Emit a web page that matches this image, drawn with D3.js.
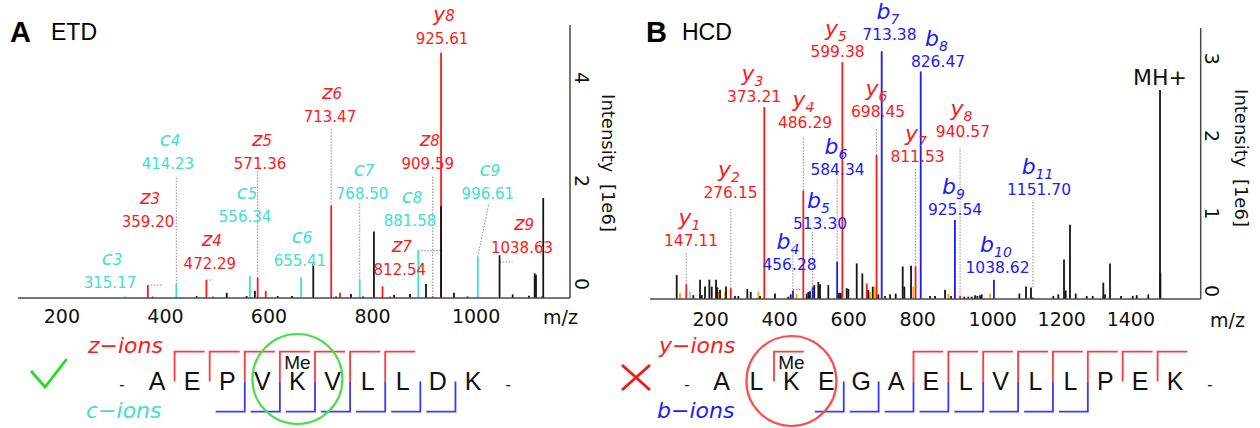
<!DOCTYPE html>
<html>
<head>
<meta charset="utf-8">
<script src="https://cdn.jsdelivr.net/npm/d3@7/dist/d3.min.js"></script>
<style>
html,body{margin:0;padding:0;background:#fff;}
svg{display:block;}
</style>
</head>
<body>
<svg id="chart" width="1260" height="428"></svg>
<script>
// ================= DATA =================
// ---- Panel A : ETD spectrum ----
const etdMz = [315.17, 359.20, 414.23, 472.29, 485, 556.34, 571.36, 587, 655.41, 713.47, 730.4, 768.50, 812.54, 827, 881.58, 909.59, 925.61, 996.61,
  368.6, 453.6, 511.6, 550, 566, 610, 637.7, 678.8, 722.7, 751.7, 774.9, 796, 835, 865.6, 896.5, 925.61, 950.6, 977, 1038.63, 1064, 1095.5, 1106.5, 1109, 1121, 1123];
const etdInt = [0.03, 0.25, 0.27, 0.35, 0.03, 0.43, 0.39, 0.14, 0.40, 1.79, 0.10, 0.35, 0.23, 0.03, 0.92, 0.03, 4.76, 0.80,
  0.025, 0.04, 0.10, 0.04, 0.14, 0.04, 0.04, 0.67, 0.03, 0.08, 0.03, 1.29, 0.06, 0.08, 0.27, 1.78, 0.10, 0.03, 0.83, 0.07, 0.045, 0.48, 0.45, 0.03, 1.94];
const etdType = ['c','z','c','z','z','c','z','z','c','z','z','c','z','z','c','z','y','c',
  'n','n','n','n','n','n','n','n','n','n','n','n','n','n','n','n','n','n','n','n','n','n','n','n','n'];

const etdLabIon = ['y','z','c','z','z','c','c','z','c','c','z','z','c','z','c'];
const etdLabNum = ['8','6','4','5','8','7','9','3','5','8','9','4','6','7','3'];
const etdLabVal = ['925.61','713.47','414.23','571.36','909.59','768.50','996.61','359.20','556.34','881.58','1038.63','472.29','655.41','812.54','315.17'];
const etdLabMz  = [927.5, 711, 398, 576, 900, 773, 1016, 359.5, 547, 865.6, 1082, 479, 653, 846, 286];
const etdLabInt = [4.94, 3.41, 2.51, 2.51, 2.51, 1.93, 1.93, 1.37, 1.47, 1.39, 0.88, 0.57, 0.63, 0.44, 0.20];
// dotted label connectors [mz1, int1, mz2, int2]
const etdConn = [
  [414.23, 0.27, 414.23, 2.35], [571.36, 0.39, 571.36, 2.49], [713.47, 1.79, 713.47, 3.30],
  [768.50, 0.35, 768.50, 1.86], [909.59, 0, 909.59, 2.39], [359.20, 0.25, 388.5, 0.25],
  [472.29, 0.35, 485, 0.35], [881.58, 0.92, 928.7, 0.92], [1038.63, 0.70, 1063.5, 0.70],
  [996.61, 0.80, 1018, 1.84]
];
const etdXTicks = [200, 400, 600, 800, 1000];
const etdYTicks = [0, 2, 4];

// ---- Panel B : HCD spectrum ----
const hcdMz = [147.11, 276.15, 373.21, 456.28, 486.29, 513.30, 584.34, 599.38, 670, 698.45, 713.38, 811.53, 826.47, 925.54, 940.57, 1038.62, 1151.70,
  129, 158, 240, 259.4, 355.9, 467, 679.6, 694, 805, 906.5, 1027.3,
  119.4, 167.5, 187, 192, 201.4, 214, 220.9, 233.3, 237, 245, 262.3, 288.4, 298, 324, 333.9, 360.8, 404.3, 442.8, 449.8, 496, 500.8, 505.7,
  518, 529.8, 534.7, 558.7, 589.7, 594.7, 612, 616.7, 641, 657.3, 674.6, 687.4, 703.6, 723, 737.5, 754, 774.3, 779, 798.4, 853.5, 868, 897,
  914.3, 952.8, 964.4, 974.3, 983.8, 990.5, 998.3, 1003.2, 1112.2, 1131.6, 1146, 1210.7, 1225.2, 1241.7, 1246.6, 1259, 1275.6, 1307.5,
  1324.9, 1355.6, 1360.5, 1375, 1406.9, 1440.8, 1452.4, 1486, 1519.9, 1521];
const hcdInt = [0.19, 0.14, 2.48, 0.11, 1.40, 0.15, 0.48, 3.06, 0.20, 1.86, 3.20, 0.42, 2.94, 1.02, 0.04, 0.25, 0.02,
  0.08, 0.09, 0.09, 0.09, 0.09, 0.07, 0.09, 0.16, 0.16, 0.07, 0.07,
  0.31, 0.05, 0.25, 0.05, 0.16, 0.25, 0.16, 0.25, 0.15, 0.12, 0.16, 0.04, 0.04, 0.13, 0.09, 0.04, 0.07, 0.03, 0.06, 0.07, 0.09, 0.10,
  0.18, 0.22, 0.19, 0.18, 0.08, 0.08, 0.14, 0.13, 0.46, 0.33, 0.12, 0.16, 0.06, 0.04, 0.06, 0.07, 0.42, 0.16, 0.43, 0.04, 0.04, 0.12,
  0.04, 0.03, 0.03, 0.03, 0.05, 0.04, 0.05, 0.06, 0.07, 0.16, 0.15, 0.04, 0.06, 0.51, 0.11, 0.96, 0.07, 0.04,
  0.04, 0.21, 0.06, 0.46, 0.04, 0.04, 0.05, 0.06, 2.70, 0.34];
const hcdType = ['y','y','y','b','y','b','b','y','y','y','b','y','b','b','y','b','b',
  'o','l','o','o','o','o','o','o','o','o','o'].concat(new Array(72).fill('n'));

const hcdLabIon = ['y','y','y','b','y','b','b','y','y','b','y','b','b','y','b','b'];
const hcdLabNum = ['1','2','3','4','4','5','6','5','6','7','7','8','9','8','10','11'];
const hcdLabVal = ['147.11','276.15','373.21','456.28','486.29','513.30','584.34','599.38','698.45','713.38','811.53','826.47','925.54','940.57','1038.62','1151.70'];
const hcdLabMz  = [160.9, 275.3, 343.4, 446.3, 491.2, 534.7, 585.4, 585.4, 702.8, 736, 817.2, 876.6, 925.9, 949, 1049, 1169.3];
const hcdLabInt = [0.69, 1.30, 2.54, 0.37, 2.21, 0.91, 1.60, 3.12, 2.35, 3.34, 1.77, 2.99, 1.08, 2.09, 0.34, 1.34];
const hcdConn = [
  [147.11, 0.19, 147.11, 0.61], [276.15, 0.14, 276.15, 1.19], [486.29, 1.40, 486.29, 2.10],
  [456.28, 0.12, 456.28, 0.61], [456.28, 0.12, 483, 0.12], [513.30, 0.15, 513.30, 0.87],
  [584.34, 0.48, 584.34, 1.57], [698.45, 1.86, 698.45, 2.19], [811.53, 0.42, 811.53, 1.69],
  [940.57, 0.04, 940.57, 1.95], [1151.70, 0.15, 1151.70, 1.28]
];
const hcdPrecursorMz = 1519.9, hcdPrecursorInt = 2.70;
const hcdXTicks = [200, 400, 600, 800, 1000, 1200, 1400];
const hcdYTicks = [0, 1, 2, 3];

// ---- Sequences ----
const seqA = ['-','A','E','P','V','K','V','L','L','D','K','-'];
const seqAtop = [1, 2, 3, 4, 5, 6, 7];      // z-ion cleavages (after residue index)
const seqAbot = [3, 4, 5, 6, 7, 8, 9];      // c-ion cleavages
const seqAme = 5;
const seqB = ['-','A','L','K','E','G','A','E','L','V','L','L','P','E','K','-'];
const seqBtop = [2, 6, 7, 8, 9, 10, 11, 12, 13]; // y-ion cleavages
const seqBbot = [4, 5, 6, 7, 8, 9, 10, 11];      // b-ion cleavages
const seqBme = 3;

// ================= DRAW =================
const svg = d3.select('#chart');
const DV = '"DejaVu Sans", sans-serif';
const HV = '"Liberation Sans", Arial, Helvetica, sans-serif';
const RED = '#ff1a1a', CYAN = '#40e0d0', BLUE = '#1a1aff';
const peakColor = {z: RED, y: RED, c: CYAN, b: BLUE, n: '#151515', o: '#ffa500', l: '#87cefa'};
const labColor = {z: RED, y: RED, c: CYAN, b: BLUE};

function panel(o) {
  const x = d3.scaleLinear().domain(o.xDomain).range(o.xRange);
  const y = d3.scaleLinear().domain(o.yDomain).range(o.yRange);
  const g = svg.append('g');

  // connectors
  g.selectAll('line.cn').data(o.conn).join('line')
    .attr('x1', d => x(d[0])).attr('y1', d => y(d[1]))
    .attr('x2', d => x(d[2])).attr('y2', d => y(d[3]))
    .attr('stroke', '#8a8a8a').attr('stroke-width', 1).attr('stroke-dasharray', '1.5,1.5');

  // peaks
  const peaks = o.mz.map((m, i) => ({m, v: o.int[i], t: o.type[i]}));
  peaks.sort((a, b) => (a.t === 'n') - (b.t === 'n'));
  g.selectAll('line.pk').data(peaks).join('line')
    .attr('x1', d => x(d.m)).attr('x2', d => x(d.m))
    .attr('y1', y(0)).attr('y2', d => y(d.v))
    .attr('stroke', d => peakColor[d.t]).attr('stroke-width', 1.8);

  // axis lines
  g.append('line').attr('x1', o.xRange[0]).attr('x2', o.xRange[1])
    .attr('y1', y(0)).attr('y2', y(0)).attr('stroke', '#4a4a4a').attr('stroke-width', 1.5);
  g.append('line').attr('x1', o.xRange[1]).attr('x2', o.xRange[1])
    .attr('y1', y(0)).attr('y2', y(o.yDomain[1])).attr('stroke', '#4a4a4a').attr('stroke-width', 1.5);

  // x tick labels
  g.selectAll('text.xt').data(o.xTicks).join('text')
    .attr('x', d => x(d) + o.tickDx).attr('y', o.tickY)
    .attr('text-anchor', o.tickAnchor)
    .attr('font-family', DV).attr('font-size', 19).attr('fill', '#111')
    .text(d => d);
  g.append('text').attr('x', o.mzX).attr('y', o.tickY + 1)
    .attr('font-family', DV).attr('font-size', 19).attr('fill', '#111').text('m/z');

  // y tick labels (rotated)
  g.selectAll('text.yt').data(o.yTicks).join('text')
    .attr('transform', d => `translate(${o.xRange[1] + 11.5},${y(d) + o.yLabShift}) rotate(90)`)
    .attr('text-anchor', 'middle').attr('dominant-baseline', 'central')
    .attr('font-family', DV).attr('font-size', 19).attr('fill', '#111')
    .text(d => d);
  g.append('text')
    .attr('transform', `translate(${o.xRange[1] + o.intDx},${o.intY}) rotate(90)`)
    .attr('text-anchor', 'middle').attr('dominant-baseline', 'central')
    .attr('font-family', DV).attr('font-size', 18).attr('fill', '#111')
    .text('Intensity\u00a0\u00a0[1e6]');

  // peak labels
  o.labIon.forEach((ion, i) => {
    const cx = x(o.labMz[i]), by = y(o.labInt[i]);
    const col = labColor[ion];
    g.append('text').attr('x', cx).attr('y', by).attr('text-anchor', 'middle')
      .attr('font-family', DV).attr('font-size', o.valSize).attr('fill', col).text(o.labVal[i]);
    const t = g.append('text').attr('x', cx + o.nameDx).attr('y', by - o.nameGap)
      .attr('text-anchor', 'middle').attr('font-family', DV).attr('font-style', 'italic').attr('fill', col);
    t.append('tspan').attr('font-size', o.nameSize).text(ion);
    t.append('tspan').attr('font-size', o.subSize).attr('dy', o.subDy).text(o.labNum[i]);
  });

  // title
  g.append('text').attr('x', o.titleX).attr('y', 42).attr('font-family', HV)
    .attr('font-weight', 'bold').attr('font-size', 29).attr('fill', '#000').text(o.letter);
  g.append('text').attr('x', o.titleX + o.titleGap).attr('y', 40).attr('font-family', HV)
    .attr('font-size', 23).attr('fill', '#000').text(o.title);
  return {x, y, g};
}

panel({
  xDomain: [108.4, 1174.7], xRange: [18, 570], yDomain: [0, 5.3], yRange: [298, 25],
  mz: etdMz, int: etdInt, type: etdType, conn: etdConn,
  xTicks: etdXTicks, tickDx: -3.5, tickAnchor: 'middle', tickY: 323, mzX: 543,
  yTicks: etdYTicks, yLabShift: -14, intDx: 38, intY: 163,
  labIon: etdLabIon, labNum: etdLabNum, labVal: etdLabVal, labMz: etdLabMz, labInt: etdLabInt,
  valSize: 15, nameSize: 20, subSize: 15, subDy: 0, nameDx: 2, nameGap: 23,
  letter: 'A', title: 'ETD', titleX: 10, titleGap: 41
});

const pB = panel({
  xDomain: [42, 1637.8], xRange: [650, 1200.7], yDomain: [0, 3.5], yRange: [299, 28],
  mz: hcdMz, int: hcdInt, type: hcdType, conn: hcdConn,
  xTicks: hcdXTicks, tickDx: -12, tickAnchor: 'start', tickY: 325.5, mzX: 1210,
  yTicks: hcdYTicks, yLabShift: -8, intDx: 41, intY: 158,
  labIon: hcdLabIon, labNum: hcdLabNum, labVal: hcdLabVal, labMz: hcdLabMz, labInt: hcdLabInt,
  valSize: 15.5, nameSize: 22, subSize: 14, subDy: 5, nameDx: -1.5, nameGap: 21,
  letter: 'B', title: 'HCD', titleX: 646, titleGap: 36
});
pB.g.append('text').attr('x', pB.x(hcdPrecursorMz)).attr('y', pB.y(hcdPrecursorInt) - 5)
  .attr('text-anchor', 'middle').attr('font-family', DV).attr('font-size', 22).attr('fill', '#111').text('MH+');

// ---- sequence diagrams ----
function sequence(o) {
  const sx = d3.scaleLinear().domain([1, o.seq.length - 2]).range(o.range);
  const step = sx(2) - sx(1);
  const g = svg.append('g');
  const yTop = 351.7, yMid = 381.5, yBot = 411.7;
  g.selectAll('path.top').data(o.top).join('path')
    .attr('d', d => `M${sx(d + 0.5)},${yMid}V${yTop}H${sx(d + 0.5) + step - 5}`)
    .attr('fill', 'none').attr('stroke', '#ff3a3a').attr('stroke-width', 1.8);
  g.selectAll('path.bot').data(o.bot).join('path')
    .attr('d', d => `M${sx(d + 0.5)},${yMid}V${yBot}H${sx(d + 0.5) - step + 6}`)
    .attr('fill', 'none').attr('stroke', '#3a3aff').attr('stroke-width', 1.8);
  g.selectAll('text.res').data(o.seq).join('text')
    .attr('x', (d, i) => sx(i)).attr('y', 390).attr('text-anchor', 'middle')
    .attr('font-family', HV).attr('font-size', d => d === '-' ? 16 : 25).attr('fill', '#111')
    .text(d => d);
  g.append('text').attr('x', sx(o.me)).attr('y', 368.5).attr('text-anchor', 'middle')
    .attr('font-family', HV).attr('font-size', 19).attr('fill', '#111').text('Me');
  g.append('circle').attr('cx', sx(o.me)).attr('cy', o.cy).attr('r', 45)
    .attr('fill', 'none').attr('stroke', o.circle).attr('stroke-width', 2.2);
  g.append('text').attr('x', o.labX).attr('y', 353).attr('font-family', DV).attr('font-style', 'italic')
    .attr('font-size', 22).attr('fill', RED).text(o.topLab);
  g.append('text').attr('x', o.labX - 2).attr('y', 418).attr('font-family', DV).attr('font-style', 'italic')
    .attr('font-size', 22).attr('fill', o.botCol).text(o.botLab);
}
sequence({seq: seqA, range: [157, 473], top: seqAtop, bot: seqAbot, me: seqAme, cy: 379,
  circle: '#4cdd4c', labX: 88, topLab: 'z\u2212ions', botLab: 'c\u2212ions', botCol: CYAN});
sequence({seq: seqB, range: [721.7, 1175], top: seqBtop, bot: seqBbot, me: seqBme, cy: 381,
  circle: '#ff4c4c', labX: 659, topLab: 'y\u2212ions', botLab: 'b\u2212ions', botCol: BLUE});

// check mark and cross
svg.append('path').attr('d', 'M31,371L45,387L66.7,359').attr('fill', 'none')
  .attr('stroke', '#22dd22').attr('stroke-width', 2.8);
svg.append('path').attr('d', 'M622,365L650,390M650,365L622,390').attr('fill', 'none')
  .attr('stroke', '#f01c1c').attr('stroke-width', 3);
</script>
</body>
</html>
